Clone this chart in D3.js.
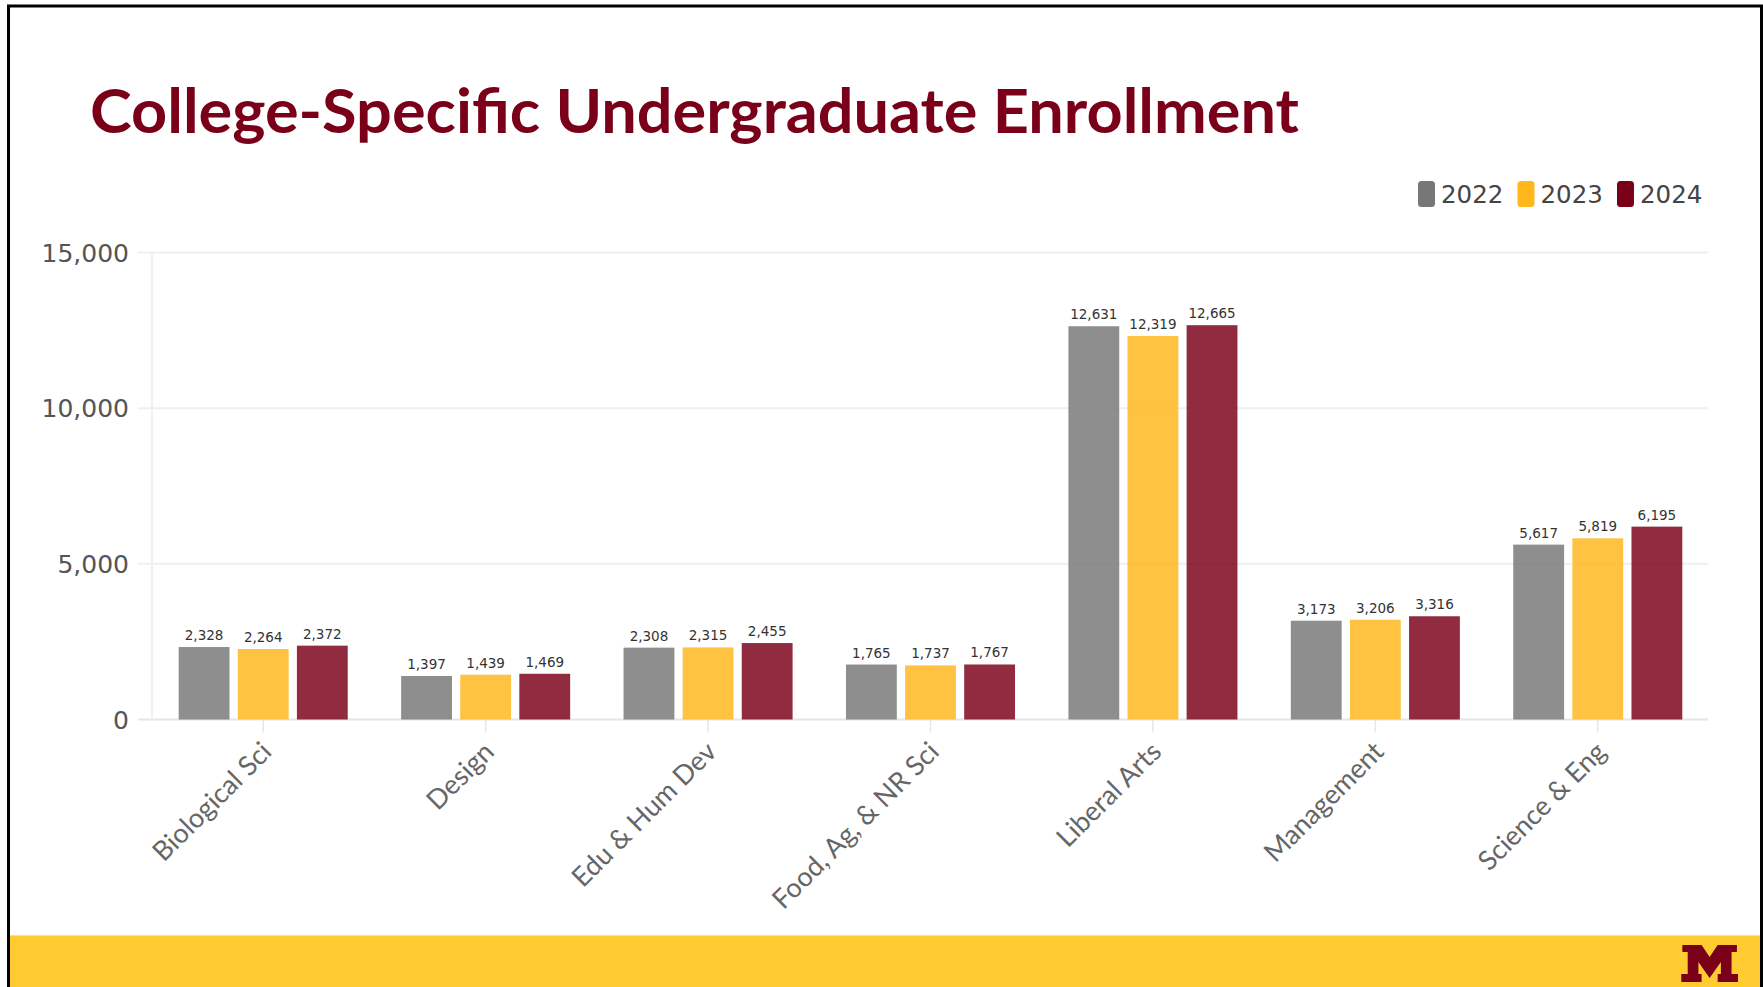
<!DOCTYPE html>
<html>
<head>
<meta charset="utf-8">
<script src="https://cdn.jsdelivr.net/npm/d3@7"></script>
<style>
  body { margin: 0; background: #fff; }
  svg { display: block; }
</style>
</head>
<body>
<div id="chart"></div>
<script>
const colleges = ["Biological Sci", "Design", "Edu & Hum Dev", "Food, Ag, & NR Sci", "Liberal Arts", "Management", "Science & Eng"];
const years = ["2022", "2023", "2024"];
const enroll2022 = [2328, 1397, 2308, 1765, 12631, 3173, 5617];
const enroll2023 = [2264, 1439, 2315, 1737, 12319, 3206, 5819];
const enroll2024 = [2372, 1469, 2455, 1767, 12665, 3316, 6195];
const yTicks = [0, 5000, 10000, 15000];

const yearColors = ["#777777", "#ffb71b", "#7a0019"];

const width = 1763, height = 987;

const series = { "2022": enroll2022, "2023": enroll2023, "2024": enroll2024 };
const rows = colleges.map((c, i) => ({
  college: c,
  values: years.map((y) => ({ year: y, value: series[y][i] })),
}));

const svg = d3.select("#chart").append("svg").attr("width", width).attr("height", height);

// frame + footer
svg.append("rect").attr("x", 10).attr("y", 935).attr("width", 1751).attr("height", 52).attr("fill", "#ffcb31");
svg.append("line").attr("x1", 10).attr("x2", 1761).attr("y1", 935.5).attr("y2", 935.5).attr("stroke", "#ffe08a").attr("stroke-width", 1);
svg.append("path")
  .attr("fill", "none").attr("stroke", "#000").attr("stroke-width", 3)
  .attr("d", "M8.5,987 L8.5,6 L1761.5,6 L1761.5,987");

// block M logo
const logo = [[5,0],[23,0],[30.5,12],[38,0],[56,0],[56,7],[51,7],[51,29],[57,29],[57,37],[38,37],[38,29],[41,29],[41,17],[30.5,33],[20,17],[20,29],[23,29],[23,37],[4,37],[4,29],[10,29],[10,7],[5,7]];
svg.append("path")
  .attr("transform", "translate(1677,945) scale(1.07,1)")
  .attr("fill", "#7a0019")
  .attr("d", "M" + logo.map((p) => p.join(",")).join("L") + "Z");

// title
const title = svg.append("text")
  .attr("x", 90).attr("y", 133)
  .attr("font-family", "Lato, 'Open Sans', sans-serif")
  .attr("font-weight", 700)
  .attr("font-size", 61)
  .attr("fill", "#7a0019")
  .text("College-Specific Undergraduate Enrollment");
const tw = title.node().getComputedTextLength();
if (Math.abs(tw - 1209) > 4) title.attr("textLength", 1209).attr("lengthAdjust", "spacingAndGlyphs");

// scales
const x0 = d3.scaleBand().domain(colleges).range([152, 1709]).paddingInner(0.24).paddingOuter(0.12);
const x1 = d3.scaleBand().domain(years).range([0, x0.bandwidth()]).paddingInner(0.14);
const y = d3.scaleLinear().domain([0, 15000]).range([719.5, 252.5]);
const color = d3.scaleOrdinal().domain(years).range(yearColors);

// grid
const grid = svg.append("g");
grid.selectAll("line")
  .data(yTicks)
  .join("line")
  .attr("x1", 138).attr("x2", 1708)
  .attr("y1", (d) => y(d)).attr("y2", (d) => y(d))
  .attr("stroke", (d) => (d === 0 ? "#e6e6e6" : "#efefef"))
  .attr("stroke-width", 2);
svg.append("line")
  .attr("x1", 152).attr("x2", 152)
  .attr("y1", y(15000)).attr("y2", y(0))
  .attr("stroke", "#f0f0f0").attr("stroke-width", 2);

// y labels
svg.append("g")
  .attr("font-family", "'DejaVu Sans', sans-serif")
  .attr("font-size", 25)
  .attr("fill", "#555")
  .attr("text-anchor", "end")
  .selectAll("text")
  .data(yTicks)
  .join("text")
  .attr("x", 129)
  .attr("y", (d) => y(d))
  .attr("dy", "0.36em")
  .text((d) => d3.format(",")(d));

// x axis ticks + labels
const xg = svg.append("g").attr("transform", `translate(0,${y(0)})`)
  .call(d3.axisBottom(x0).tickSize(13).tickSizeOuter(0));
xg.select(".domain").remove();
xg.selectAll(".tick line").attr("stroke", "#e6e6e6").attr("stroke-width", 1.5);
xg.selectAll(".tick text")
  .attr("font-family", "Lato, 'Open Sans', sans-serif")
  .attr("font-size", 27)
  .attr("fill", "#666")
  .attr("text-anchor", "end")
  .attr("x", 0).attr("y", 0).attr("dy", 0)
  .attr("transform", "translate(10,34) rotate(-45)");

// bars
const groups = svg.append("g")
  .selectAll("g")
  .data(rows)
  .join("g")
  .attr("transform", (d) => `translate(${x0(d.college)},0)`);

groups.selectAll("rect")
  .data((d) => d.values)
  .join("rect")
  .attr("x", (d) => x1(d.year))
  .attr("y", (d) => y(d.value))
  .attr("width", x1.bandwidth())
  .attr("height", (d) => y(0) - y(d.value))
  .attr("fill", (d) => color(d.year))
  .attr("fill-opacity", 0.83);

groups.selectAll("text")
  .data((d) => d.values)
  .join("text")
  .attr("x", (d) => x1(d.year) + x1.bandwidth() / 2)
  .attr("y", (d) => y(d.value) - 7)
  .attr("text-anchor", "middle")
  .attr("font-family", "'DejaVu Sans', sans-serif")
  .attr("font-size", 13.5)
  .attr("fill", "#333")
  .attr("stroke", "#fff").attr("stroke-width", 3).attr("paint-order", "stroke")
  .text((d) => d3.format(",")(d.value));

// legend
const legend = svg.append("g")
  .selectAll("g")
  .data(years)
  .join("g")
  .attr("transform", (d, i) => `translate(${1418 + i * 99.5},181)`);
legend.append("rect")
  .attr("width", 17).attr("height", 26).attr("rx", 3.5)
  .attr("fill", (d) => color(d));
legend.append("text")
  .attr("x", 23).attr("y", 22)
  .attr("font-family", "'DejaVu Sans', sans-serif")
  .attr("font-size", 24.5)
  .attr("fill", "#444")
  .text((d) => d);
</script>
</body>
</html>
